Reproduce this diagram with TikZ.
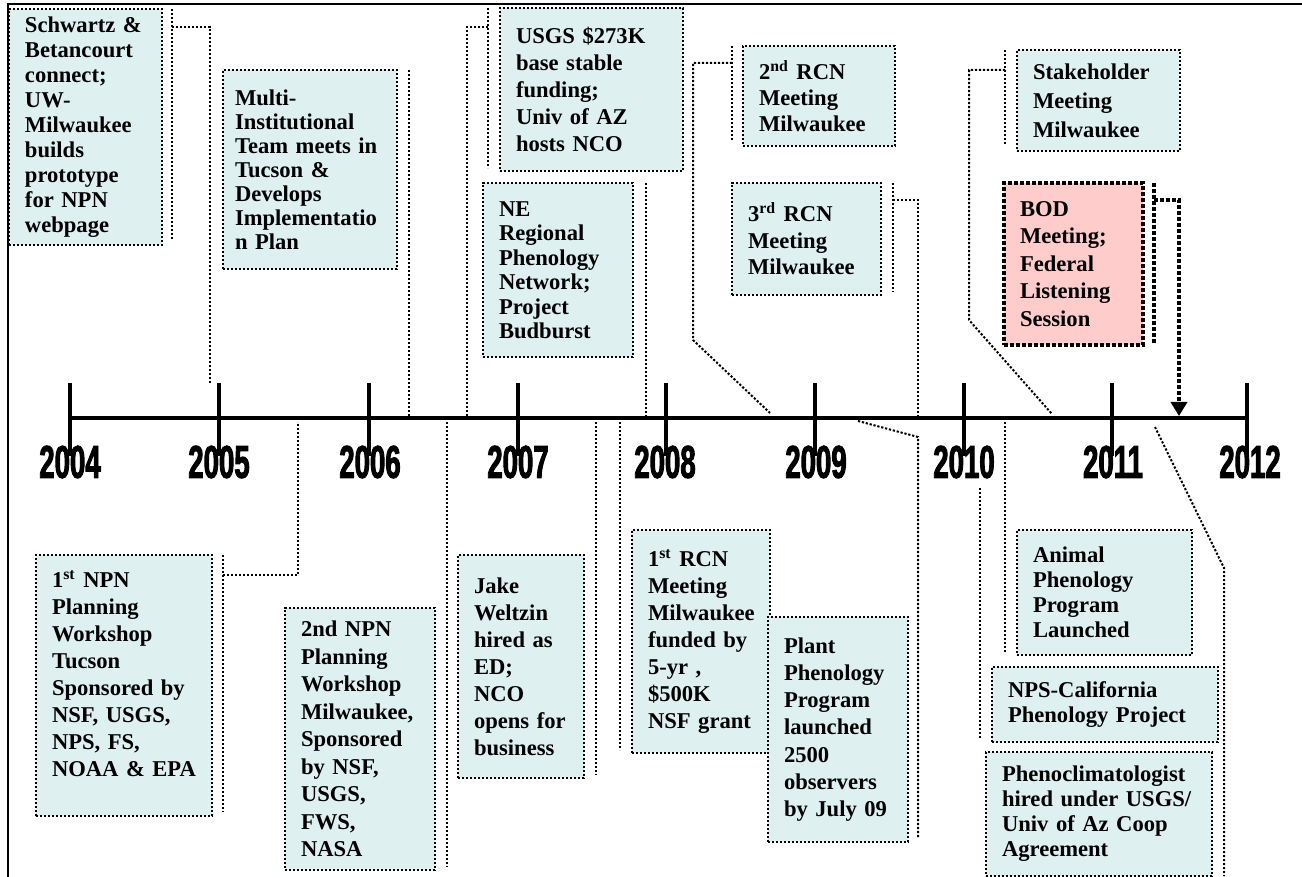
\documentclass[tikz,border=0pt]{standalone}
\usepackage{fontspec}
\setmainfont{Liberation Serif}
\newfontfamily\yearfont[FakeStretch=0.6,FakeBold=2]{Liberation Sans}
\usepackage{tikz}
\usetikzlibrary{arrows.meta,positioning}
\definecolor{evfill}{RGB}{222,240,240}
\definecolor{bodfill}{RGB}{255,204,204}
\newcommand{\evtext}[1]{\fontsize{11.3}{#1}\selectfont\bfseries\hyphenpenalty=10000 }

\begin{document}
\begin{tikzpicture}[x=0.5pt,y=-0.5pt,
    event/.style={draw,line width=1pt,dash pattern=on 1.1pt off 0.9pt,fill=evfill,
        anchor=north west,outer sep=0pt,inner xsep=8pt,inner ysep=1pt,align=left},
    conn/.style={line width=1pt,dash pattern=on 1.1pt off 0.9pt},
    bodconn/.style={line width=2pt,dash pattern=on 2pt off 1pt},
    year/.style={font=\yearfont\bfseries\fontsize{23}{23}\selectfont},
    tline/.style={line width=2pt}]
    \useasboundingbox (0,0) rectangle (1302,877);
    \draw[line width=1.2pt] (8,877) -- (8,4) -- (1302,4);

    % timeline
    \draw[tline] (68,418) -- (1249,418);
    \draw[tline] (70,383) -- (70,456) (219,383) -- (219,456) (369,383) -- (369,456)
        (518,383) -- (518,456) (666,383) -- (666,456) (815,383) -- (815,456)
        (964,383) -- (964,456) (1112,383) -- (1112,456) (1247,383) -- (1247,456);
    \node[year] (y2004) at (70,462)   {2004};
    \node[year] (y2005) at (219,462)  {2005};
    \node[year] (y2006) at (370,462)  {2006};
    \node[year] (y2007) at (518,462)  {2007};
    \node[year] (y2008) at (665,462)  {2008};
    \node[year] (y2009) at (816,462)  {2009};
    \node[year] (y2010) at (964,462)  {2010};
    \node[year] (y2011) at (1113,462) {2011};
    \node[year] (y2012) at (1250,462) {2012};

    % events above the line
    \node[event,text width=60.5pt,minimum height=118pt,font=\evtext{12.5}] (schwartz) at (9,9)
        {Schwartz \&\\Betancourt\\connect;\\UW-\\Milwaukee\\builds\\prototype\\for NPN\\webpage};
    \node[event,inner xsep=6pt,text width=75pt,minimum height=99.5pt,font=\evtext{12}] (multi) at (223,70)
        {Multi-\\Institutional\\Team meets in\\Tucson \&\\Develops\\Implementatio\\n Plan};
    \node[event,text width=75.5pt,minimum height=81.5pt,font=\evtext{13.5}] (usgs) at (500,8)
        {USGS \$273K\\base stable\\funding;\\Univ of AZ\\hosts NCO};
    \node[event,text width=59pt,minimum height=87pt,font=\evtext{12.25}] (ne) at (483,183)
        {NE\\Regional\\Phenology\\Network;\\Project\\Budburst};
    \node[event,text width=60pt,minimum height=50pt,font=\evtext{13}] (rcn2) at (743,46)
        {2\textsuperscript{nd} RCN\\Meeting\\Milwaukee};
    \node[event,text width=58.5pt,minimum height=56pt,font=\evtext{13.3}] (rcn3) at (732,183)
        {3\textsuperscript{rd} RCN\\Meeting\\Milwaukee};
    \node[event,text width=65.5pt,minimum height=50.5pt,font=\evtext{14.5}] (stake) at (1017,50)
        {Stakeholder\\Meeting\\Milwaukee};
    \node[event,text width=53.5pt,minimum height=81pt,font=\evtext{13.75},fill=bodfill,
        line width=2pt,dash pattern=on 2pt off 1pt] (bod) at (1004,183)
        {BOD\\Meeting;\\Federal\\Listening\\Session};

    % events below the line
    \node[event,text width=72pt,minimum height=130.5pt,font=\evtext{13.5}] (npn1) at (36,555)
        {1\textsuperscript{st} NPN\\Planning\\Workshop\\Tucson\\Sponsored by\\NSF, USGS,\\NPS, FS,\\NOAA \& EPA\rule[-12pt]{0pt}{0pt}};
    \node[event,text width=59pt,minimum height=131pt,font=\evtext{13.75}] (npn2) at (285,608)
        {2nd NPN\\Planning\\Workshop\\Milwaukee,\\Sponsored\\by NSF,\\USGS,\\FWS,\\NASA};
    \node[event,text width=47pt,minimum height=111.5pt,font=\evtext{13.5}] (jake) at (458,555)
        {Jake\\Weltzin\\hired as\\ED;\\NCO\\opens for\\business};
    \node[event,text width=53pt,minimum height=111.5pt,font=\evtext{13.5}] (rcn1) at (632,530)
        {1\textsuperscript{st} RCN\\Meeting\\Milwaukee\\funded by\\5-yr ,\\\$500K\\NSF grant};
    \node[event,text width=54pt,minimum height=112.5pt,font=\evtext{13.6}] (plant) at (768,617)
        {Plant\\Phenology\\Program\\launched\\2500\\observers\\by July 09};
    \node[event,text width=71.5pt,minimum height=62.5pt,font=\evtext{12.5}] (animal) at (1017,530)
        {Animal\\Phenology\\Program\\Launched};
    \node[event,text width=97pt,minimum height=37.5pt,font=\evtext{12.5}] (npscal) at (992,667)
        {NPS-California\\Phenology Project};
    \node[event,text width=97pt,minimum height=62pt,font=\evtext{12.5}] (phenoclim) at (986,752)
        {Phenoclimatologist\\hired under USGS/\\Univ of Az Coop\\Agreement};

    % connectors
    \coordinate (c1) at (210,383);
    \coordinate (c2) at (409,416);
    \coordinate (c3) at (467,416);
    \coordinate (c4) at (646,416);
    \coordinate (c5) at (770,413);
    \coordinate (c6) at (918,416);
    \coordinate (c7) at (1052,414);
    \coordinate (c8) at (1179,416);
    \coordinate (c9) at (298,422);
    \coordinate (c10) at (447,422);
    \coordinate (c11) at (596,422);
    \coordinate (c12) at (620,422);
    \coordinate (c13) at (858,421);
    \coordinate (c14) at (1005,422);
    \coordinate (c16) at (1155,427);

    \draw[conn] ([xshift=5pt]schwartz.north east) -- ([xshift=5pt,yshift=2.5pt]schwartz.south east);
    \draw[conn] ([xshift=5pt,yshift=-9pt]schwartz.north east) -| (c1);
    \draw[conn] ([xshift=6pt]multi.north east) -- (c2);
    \draw[conn] ([xshift=-6pt]usgs.north west) -- ([xshift=-6pt,yshift=1.5pt]usgs.south west);
    \draw[conn] ([xshift=-6pt,yshift=-9.5pt]usgs.north west) -| (c3);
    \draw[conn] ([xshift=6.5pt]ne.north east) -- (c4);
    \draw[conn] ([xshift=-5.5pt]rcn2.north west) -- ([xshift=-5.5pt,yshift=3pt]rcn2.south west);
    \draw[conn] ([xshift=-5.5pt,yshift=-8.5pt]rcn2.north west) -| (693,340) -- (c5);
    \draw[conn] ([xshift=6pt]rcn3.north east) -- ([xshift=6pt,yshift=1.5pt]rcn3.south east);
    \draw[conn] ([xshift=6pt,yshift=-8.5pt]rcn3.north east) -| (c6);
    \draw[conn] ([xshift=-6pt]stake.north west) -- ([xshift=-6pt,yshift=3pt]stake.south west);
    \draw[conn] ([xshift=-6pt,yshift=-10pt]stake.north west) -| (969,320) -- (c7);
    \draw[bodconn] ([xshift=5.5pt]bod.north east) -- ([xshift=5.5pt,yshift=1pt]bod.south east);
    \draw[bodconn,-{Triangle[length=7pt,width=8pt]}] ([xshift=5.5pt,yshift=-8.5pt]bod.north east) -| (c8);

    \draw[conn] ([xshift=5.5pt]npn1.north east) -- ([xshift=5.5pt,yshift=2pt]npn1.south east);
    \draw[conn] ([xshift=5.5pt,yshift=-10pt]npn1.north east) -| (c9);
    \draw[conn] (c10) -- ([xshift=6pt,yshift=1.5pt]npn2.south east);
    \draw[conn] (c11) -- ([xshift=6pt,yshift=1.5pt]jake.south east);
    \draw[conn] (c12) -- ([xshift=-6pt,yshift=1.5pt]rcn1.south west);
    \draw[conn] (c13) -- (918,437) -- ([xshift=5pt,yshift=2.5pt]plant.south east);
    \draw[conn] (c14) -- ([xshift=-6pt,yshift=1.5pt]animal.south west);
    \draw[conn] ([xshift=-6pt,yshift=89.5pt]npscal.north west) -- ([xshift=-6pt,yshift=2pt]npscal.south west);
    \draw[conn] (c16) -- (1224,568) -- ([xshift=6pt]phenoclim.south east);
\end{tikzpicture}
\end{document}
